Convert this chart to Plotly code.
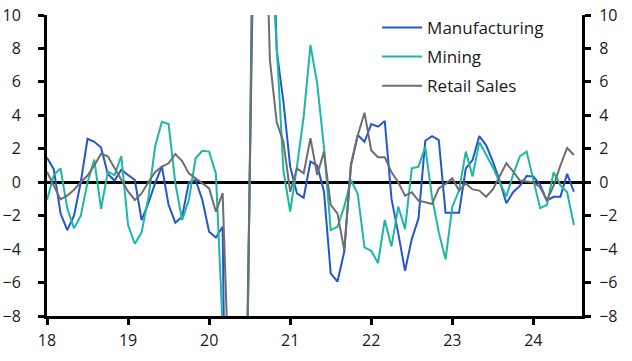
import plotly.graph_objects as go

# Monthly data, Jan 2018 .. Jul 2024
tick_values = [18, 19, 20, 21, 22, 23, 24]
tick_labels = ["18", "19", "20", "21", "22", "23", "24"]

manufacturing = [
    1.46, 0.78, -1.86, -2.86, -2.0, 0.0, 2.6, 2.42, 2.08, 0.5, 0.1, 0.75,
    0.43, 0.13, -2.26, -1.26, -0.07, 0.95, -1.36, -2.42, -2.06, 0.0, 0.13, -1.06,
    -2.96, -3.30, -2.66, -36.0, -25.0, -30.0, 0.0, 35.0, 30.0, 22.0, 7.9, 4.8,
    0.93, -0.67, -0.93, 1.23, 1.0, -0.55, -5.45, -5.95, -4.16, 1.0, 2.82, 2.42,
    3.48, 3.32, 3.66, -1.0, -3.06, -5.3, -3.4, -2.16, 2.48, 2.76, 2.52, -1.82,
    -1.82, -1.82, 0.83, 1.33, 2.76, 2.22, 1.25, 0.1, -1.26, -0.6, -0.22, 0.37,
    0.35, -0.15, -1.1, -0.87, -0.87, 0.5, -0.57,
]
mining = [
    -1.06, 0.43, 0.83, -1.56, -2.76, -2.0, 0.0, 1.35, -1.6, 0.63, 0.43, 1.57,
    -2.56, -3.68, -3.0, -0.95, 2.12, 3.62, 3.48, -0.07, -2.26, -1.06, 1.43, 1.88,
    1.83, 0.53, -8.6, -35.0, -25.0, -30.0, 0.0, 30.0, 25.0, 15.0, 8.2, 0.7,
    -1.76, 0.93, 3.92, 8.2, 5.9, 2.1, -2.86, -2.66, -1.46, 0.13, -0.7, -3.9,
    -4.1, -4.83, -2.26, -3.84, -1.46, -2.8, 0.83, 0.93, 2.12, -0.9, -3.0, -4.61,
    -1.46, -0.5, 1.83, 0.35, 2.4, 1.6, 0.9, 0.0, -0.85, 0.45, 1.55, 1.83,
    0.15, -1.55, -1.36, 0.6, -0.17, -0.6, -2.56,
]
retail_sales = [
    0.63, -0.2, -1.03, -0.8, -0.45, 0.0, 0.4, 1.0, 1.7, 1.55, 0.85, 0.15,
    -0.55, -1.06, -0.67, 0.0, 0.6, 0.93, 1.13, 1.69, 1.27, 0.53, 0.23, -0.07,
    -0.37, -1.76, -0.65, -13.0, -15.0, -25.0, 0.0, 25.0, 22.0, 7.3, 3.6, 2.4,
    -0.57, 0.83, 0.53, 2.63, 0.43, 1.83, -1.36, -1.86, -4.06, 1.1, 2.8, 4.16,
    1.9, 1.5, 1.5, 0.6, 0.0, -0.8, -0.6, -1.1, -1.2, -1.3, -0.37, -0.1,
    0.23, -0.5, -0.07, -0.43, -0.5, -0.87, -0.43, 0.37, 1.13, 0.65, 0.1, 0.05,
    0.0, -0.3, -1.1, -0.2, 1.0, 2.05, 1.63,
]

start_year = 18
x = [start_year + i / 12 for i in range(len(manufacturing))]

BLUE = "#2456d3"
TEAL = "#1bb8a2"
GRAY = "#6e6e6e"
FONT = "Open Sans"

fig = go.Figure()
fig.add_trace(go.Scatter(x=x, y=manufacturing, name="Manufacturing", mode="lines",
                         line=dict(color=BLUE, width=2), legendgroup="a"))
fig.add_trace(go.Scatter(x=x, y=mining, name="Mining", mode="lines",
                         line=dict(color=TEAL, width=2), legendgroup="b"))
fig.add_trace(go.Scatter(x=x, y=retail_sales, name="Retail Sales", mode="lines",
                         line=dict(color=GRAY, width=2), legendgroup="c", yaxis="y2"))

yax = dict(range=[-8, 10], dtick=2, tick0=0, showgrid=False, showline=True,
           linecolor="black", linewidth=3, ticks="outside", ticklen=6,
           tickwidth=2.5, tickcolor="black", automargin=False,
           tickfont=dict(family=FONT, size=16, color="#1a1a1a"))

fig.update_layout(
    width=632, height=361,
    margin=dict(l=47, r=50, t=15, b=45, autoexpand=False),
    paper_bgcolor="white", plot_bgcolor="white",
    font=dict(family=FONT, size=16, color="#1a1a1a"),
    xaxis=dict(range=[18, 24.6], tickvals=tick_values, ticktext=tick_labels,
               showgrid=False, zeroline=False, showline=True, linecolor="black",
               linewidth=3, ticks="outside", ticklen=6, tickwidth=2.5,
               tickcolor="black", ticklabelstandoff=2, automargin=False,
               tickfont=dict(family=FONT, size=16, color="#1a1a1a")),
    yaxis=dict(**yax, ticklabelstandoff=14, zeroline=True, zerolinecolor="black",
               zerolinewidth=3),
    yaxis2=dict(**yax, ticklabelstandoff=5, overlaying="y", side="right",
                zeroline=False),
    legend=dict(x=0.617, y=1.017, xanchor="left", yanchor="top",
                bgcolor="rgba(0,0,0,0)", traceorder="grouped", tracegroupgap=4,
                itemwidth=40, font=dict(family=FONT, size=17, color="#1a1a1a")),
    showlegend=True,
)

fig.write_html("out.html", config={"displayModeBar": False},
               post_script="document.body.style.margin='0';document.body.style.padding='0';")
